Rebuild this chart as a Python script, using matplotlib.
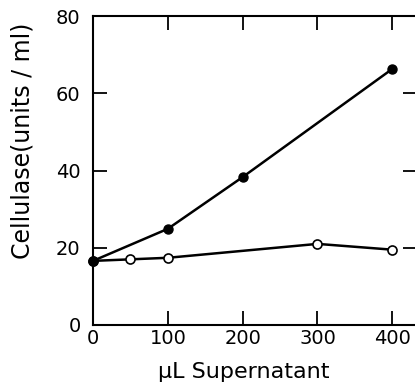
import matplotlib
matplotlib.use("Agg")
import matplotlib.pyplot as plt

# cellulase activity vs. volume of supernatant added
filled_x = [0, 100, 200, 400]
filled_y = [16.6, 24.9, 38.3, 66.3]

open_x = [0, 50, 100, 300, 400]
open_y = [16.6, 17.0, 17.4, 21.0, 19.5]

x_ticks = [0, 100, 200, 300, 400]
y_ticks = [0, 20, 40, 60, 80]

FIG_W, FIG_H = 4.15, 3.91
DPI = 100

plt.rcParams["font.family"] = ["DejaVu Sans"]

fig = plt.figure(figsize=(FIG_W, FIG_H), dpi=DPI)
left, right = 93 / 415, 417 / 415
bottom, top = (391 - 325) / 391, (391 - 16) / 391
ax = fig.add_axes([left, bottom, right - left, top - bottom])

ax.plot(open_x, open_y, color="black", lw=1.8, marker="o", ms=6.5,
        mfc="white", mec="black", mew=1.2, zorder=2, clip_on=False)
ax.plot(filled_x, filled_y, color="black", lw=1.8, marker="o", ms=6.5,
        mfc="black", mec="black", zorder=3, clip_on=False)

ax.set_xlim(0, 433)
ax.set_ylim(0, 80)
ax.set_xticks(x_ticks)
ax.set_yticks(y_ticks)
ax.tick_params(direction="in", length=10, width=1.3, labelsize=14,
               top=True, right=True)
ax.tick_params(axis="x", pad=3)
ax.tick_params(axis="y", pad=9)
for side in ax.spines.values():
    side.set_linewidth(1.5)

ax.set_xlabel("\u03bcL Supernatant", fontsize=16)
ax.set_ylabel("Cellulase(units / ml)", fontsize=17)
ax.xaxis.set_label_coords(0.466, -0.12)
ax.yaxis.set_label_coords(-0.18, 0.595)

fig.savefig("out.png", dpi=DPI, facecolor="white")
plt.close(fig)
